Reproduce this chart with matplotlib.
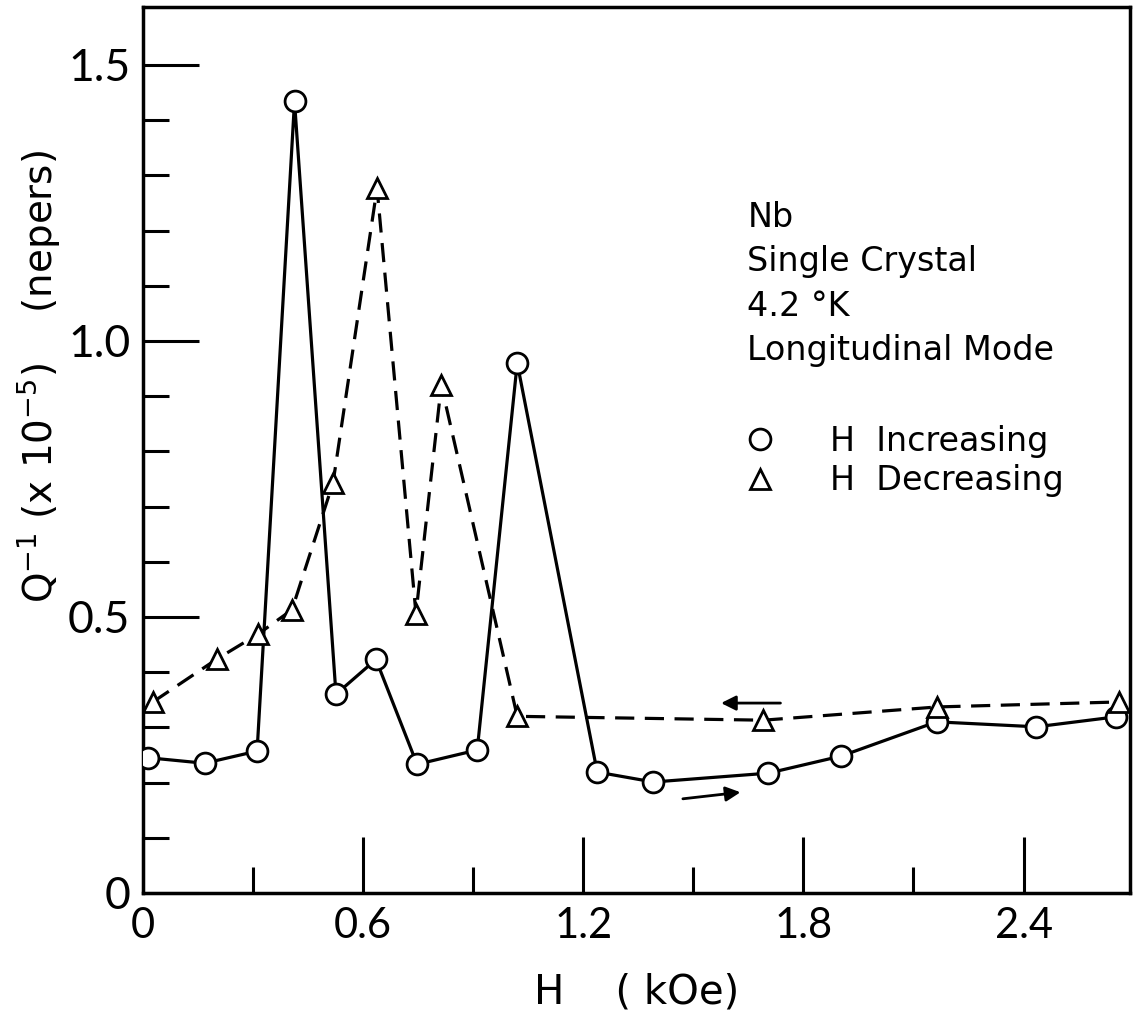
import matplotlib
matplotlib.use("Agg")
import matplotlib.pyplot as plt
from matplotlib.lines import Line2D

# H increasing (circles, solid line)
h_inc = [0.014, 0.168, 0.311, 0.413, 0.526, 0.635, 0.747, 0.911, 1.020,
         1.238, 1.391, 1.704, 1.903, 2.163, 2.435, 2.651]
q_inc = [0.245, 0.235, 0.257, 1.434, 0.360, 0.423, 0.233, 0.259, 0.960,
         0.219, 0.201, 0.217, 0.248, 0.310, 0.301, 0.319]

# H decreasing (triangles, dashed line)
h_dec = [0.027, 0.202, 0.314, 0.406, 0.518, 0.638, 0.744, 0.813, 1.020,
         1.691, 2.165, 2.659]
q_dec = [0.346, 0.424, 0.469, 0.513, 0.743, 1.277, 0.506, 0.920, 0.320,
         0.313, 0.337, 0.346]

x_major = [0, 0.6, 1.2, 1.8, 2.4]
x_labels = ["0", "0.6", "1.2", "1.8", "2.4"]
x_minor = [0.3, 0.9, 1.5, 2.1]
y_major = [0, 0.5, 1.0, 1.5]
y_labels = ["0", "0.5", "1.0", "1.5"]
y_minor = [0.1, 0.2, 0.3, 0.4, 0.6, 0.7, 0.8, 0.9, 1.1, 1.2, 1.3, 1.4]

info_lines = ["Nb", "Single Crystal", "4.2 \u00b0K", "Longitudinal Mode"]
legend_labels = ["H  Increasing", "H  Decreasing"]


def main():
    fig = plt.figure(figsize=(11.33, 10.16), dpi=100)
    ax = fig.add_axes([0.1262, 0.1211, 0.8711, 0.8720])

    ax.plot(h_inc, q_inc, color="k", lw=2.3, marker="o", ms=15,
            mfc="white", mec="k", mew=2.0, zorder=3)
    ax.plot(h_dec, q_dec, color="k", lw=2.3, ls=(0, (6, 3.3)), marker="^",
            ms=15, mfc="white", mec="k", mew=2.0, zorder=3)

    # direction arrows
    ax.annotate("", xy=(1.568, 0.344), xytext=(1.745, 0.344),
                arrowprops=dict(arrowstyle="-|>", color="k", lw=2,
                                mutation_scale=22))
    ax.annotate("", xy=(1.636, 0.183), xytext=(1.464, 0.170),
                arrowprops=dict(arrowstyle="-|>", color="k", lw=2,
                                mutation_scale=22))

    ax.set_xlim(0, 2.69)
    ax.set_ylim(0, 1.605)

    for sp in ax.spines.values():
        sp.set_linewidth(2.5)

    ax.set_xticks(x_major)
    ax.set_xticklabels(x_labels)
    ax.set_xticks(x_minor, minor=True)
    ax.set_yticks(y_major)
    ax.set_yticklabels(y_labels)
    ax.set_yticks(y_minor, minor=True)
    ax.tick_params(which="major", direction="in", length=40, width=2.2)
    ax.tick_params(which="minor", direction="in", length=19, width=2.2)
    ax.tick_params(axis="y", which="major", pad=9)
    ax.tick_params(axis="x", which="major", pad=10)
    for lab in ax.get_xticklabels():
        lab.set_fontsize(30)
        lab.set_family("Lato")
    for lab in ax.get_yticklabels():
        lab.set_fontsize(32)
        lab.set_family("Lato")

    ax.set_xlabel("H    ( kOe)", fontsize=29, labelpad=20)
    ax.set_ylabel(r"Q$^{-1}$ (x 10$^{-5}$)    (nepers)", fontsize=28)
    ax.yaxis.set_label_coords(-0.082, 0.583)

    for i, line in enumerate(info_lines):
        ax.text(1.647, 1.207 - i * 0.0806, line, fontsize=24, va="baseline",
                ha="left")

    handles = [
        Line2D([], [], ls="none", marker="o", ms=15, mfc="white", mec="k",
               mew=2.0),
        Line2D([], [], ls="none", marker="^", ms=15, mfc="white", mec="k",
               mew=2.0),
    ]
    ax.legend(handles, legend_labels, loc="center left",
              bbox_to_anchor=(0.608, 0.4876), frameon=False, fontsize=24,
              handlelength=1.0, handletextpad=1.6, labelspacing=0.2,
              borderpad=0, borderaxespad=0)

    fig.savefig("out.png", dpi=100)


if __name__ == "__main__":
    main()
